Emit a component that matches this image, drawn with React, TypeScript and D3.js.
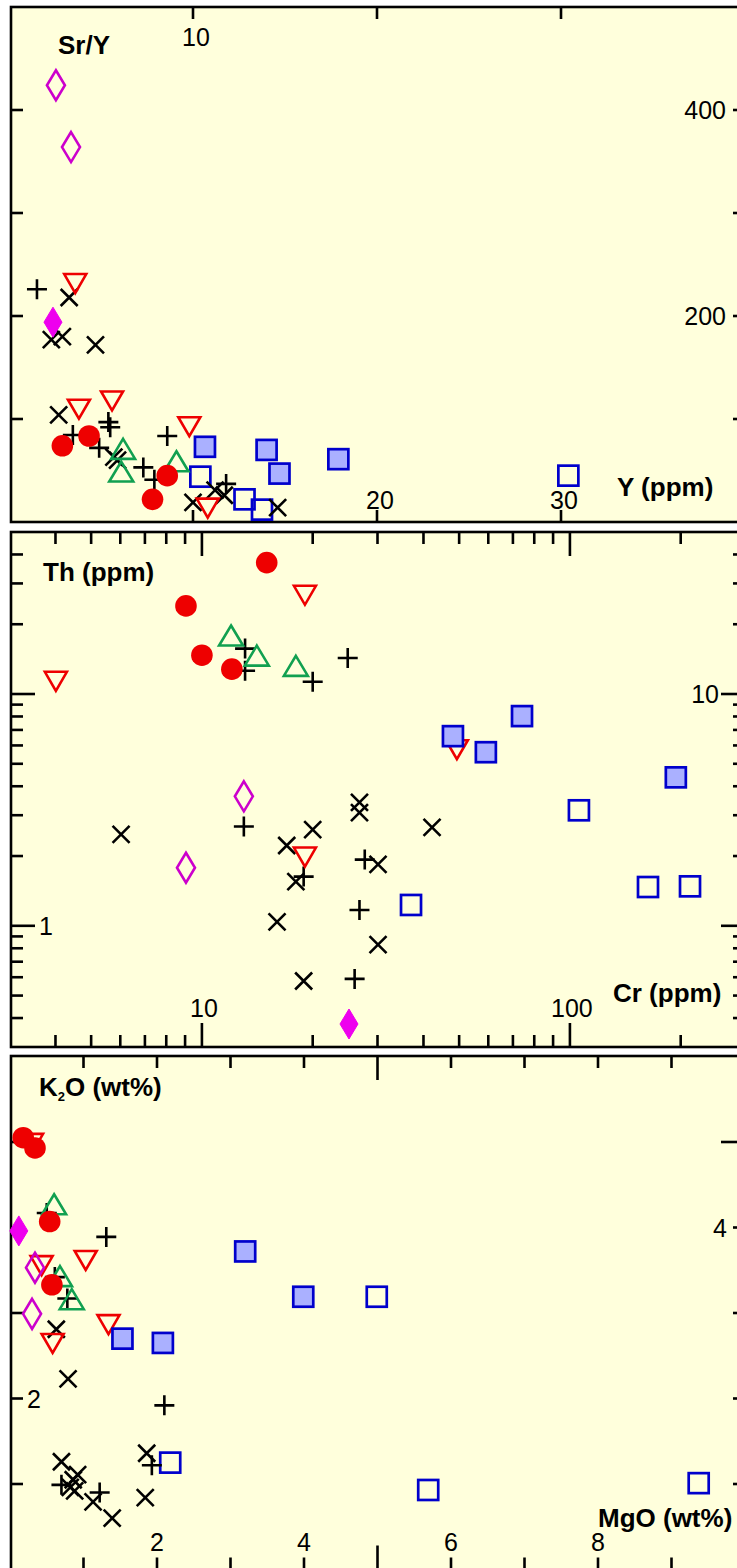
import React from "react";
import * as d3 from "d3";

type P = [number, number];

// ---------- Panel 1: Y (ppm) vs Sr/Y ----------
const p1_redCircle: P[] = [[2.9, 74], [4.35, 83.5], [8.6, 45], [7.8, 22]];
const p1_redTri: P[] = [[3.6, 232], [3.8, 110], [5.6, 118], [9.8, 93], [10.8, 14]];
const p1_greenTri: P[] = [[6.2, 70], [6.1, 48], [9.1, 58]];
const p1_plus: P[] = [[1.52, 226], [3.47, 84.5], [5.4, 97], [5.5, 92], [4.9, 72], [8.6, 83.5], [7.3, 53], [7.9, 41], [11.8, 37]];
const p1_cross: P[] = [[3.27, 218], [2.3, 177], [2.9, 180], [4.7, 172], [2.7, 104], [5.7, 63], [5.9, 60], [10, 19], [11.2, 31], [11.7, 26], [14.6, 14]];
const p1_diamondOpen: P[] = [[2.55, 424], [3.37, 364]];
const p1_diamondFilled: P[] = [[2.39, 194]];
const p1_squareFilled: P[] = [[10.65, 73], [14, 70], [14.7, 47], [17.9, 61]];
const p1_squareOpen: P[] = [[10.4, 44], [12.8, 22], [13.75, 12], [30.4, 45]];

// ---------- Panel 2: Cr (ppm) vs Th (ppm) ----------
const p2_redCircle: P[] = [[15.0, 36.9], [9.05, 24.0], [10, 14.7], [12.06, 12.8]];
const p2_redTri: P[] = [[19.05, 26.8], [4.01, 11.4], [49.3, 5.78], [19.05, 1.99]];
const p2_greenTri: P[] = [[12.0, 17.7], [14.1, 14.5], [18.0, 13.1]];
const p2_plus: P[] = [[13.1, 15.7], [13.1, 12.6], [20.0, 11.3], [24.9, 14.3], [13.0, 2.68], [18.9, 1.63], [27.7, 1.93], [26.8, 1.17], [26.0, 0.59]];
const p2_cross: P[] = [[6.03, 2.48], [17.0, 2.22], [20.0, 2.6], [18.0, 1.55], [16.0, 1.04], [18.9, 0.578], [26.8, 3.41], [26.8, 3.08], [30.1, 1.84], [30.1, 0.83], [42.2, 2.66]];
const p2_diamondOpen: P[] = [[13.0, 3.62], [9.05, 1.78]];
const p2_diamondFilled: P[] = [[25.1, 0.377]];
const p2_squareFilled: P[] = [[48.1, 6.58], [59.1, 5.61], [74.1, 8.03], [194, 4.37]];
const p2_squareOpen: P[] = [[105.8, 3.15], [37.0, 1.23], [163, 1.47], [212, 1.48]];

// ---------- Panel 3: MgO (wt%) vs K2O (wt%) ----------
const p3_redCircle: P[] = [[0.18, 5.05], [0.34, 4.93], [0.54, 4.07], [0.57, 3.33]];
const p3_redTri: P[] = [[0.3, 4.99], [1.03, 3.62], [0.43, 3.56], [1.34, 2.87], [0.58, 2.65]];
const p3_greenTri: P[] = [[0.6, 4.26], [0.68, 3.42], [0.84, 3.15]];
const p3_plus: P[] = [[0.5, 4.17], [1.31, 3.89], [0.61, 3.42], [0.78, 3.17], [2.1, 1.92], [1.93, 1.22], [0.7, 0.99], [1.22, 0.9]];
const p3_cross: P[] = [[0.63, 2.81], [0.79, 2.23], [0.7, 1.26], [0.92, 1.11], [0.86, 1.05], [0.82, 0.96], [0.88, 0.92], [1.13, 0.79], [1.39, 0.6], [1.86, 1.36], [1.84, 0.84]];
const p3_diamondOpen: P[] = [[0.34, 3.53], [0.3, 2.99]];
const p3_diamondFilled: P[] = [[0.12, 3.96]];
const p3_squareFilled: P[] = [[3.2, 3.72], [3.99, 3.19], [1.53, 2.7], [2.08, 2.65]];
const p3_squareOpen: P[] = [[4.99, 3.19], [2.18, 1.25], [5.69, 0.93], [9.37, 1.01]];

// tick values / labels
const p1_xTicks = [10, 20, 30];
const p1_yTicks = [100, 200, 300, 400];
const p1_yLabels = [400, 200];
const p2_xLabels = [10, 100];
const p3_xTicks = [1, 2, 3, 4, 5, 6, 7, 8, 9];
const p3_xLabels = [2, 4, 6, 8];
const p3_yTicks = [1, 2, 3, 4, 5];

const FONT = "'Liberation Sans', Arial, Helvetica, sans-serif";
const BG = "#FFFFDC";
const RED = "#EE0000";
const GREEN = "#11A050";
const MAG = "#CC00CC";
const MAGF = "#EE00EE";
const BLUE = "#0000CC";
const BLUEF = "#AAB0FF";

type Groups = Record<string, P[]>;

function Marker({ type, x, y }: { type: string; x: number; y: number }) {
  const sw = 2.6;
  switch (type) {
    case "redCircle":
      return <circle cx={x} cy={y} r={10.8} fill={RED} />;
    case "redTri":
      return <path d={`M${x - 11},${y - 9}L${x + 11},${y - 9}L${x},${y + 10}Z`} fill="none" stroke={RED} strokeWidth={sw} />;
    case "greenTri":
      return <path d={`M${x},${y - 11}L${x + 12},${y + 9}L${x - 12},${y + 9}Z`} fill="none" stroke={GREEN} strokeWidth={sw} />;
    case "plus":
      return <path d={`M${x - 10},${y}H${x + 10}M${x},${y - 10}V${y + 10}`} stroke="#000" strokeWidth={sw} />;
    case "cross":
      return <path d={`M${x - 8.5},${y - 8.5}L${x + 8.5},${y + 8.5}M${x - 8.5},${y + 8.5}L${x + 8.5},${y - 8.5}`} stroke="#000" strokeWidth={sw} />;
    case "diamondOpen":
      return <path d={`M${x},${y - 15}L${x + 9},${y}L${x},${y + 15}L${x - 9},${y}Z`} fill="none" stroke={MAG} strokeWidth={sw} />;
    case "diamondFilled":
      return <path d={`M${x},${y - 15}L${x + 9},${y}L${x},${y + 15}L${x - 9},${y}Z`} fill={MAGF} stroke={MAGF} strokeWidth={1} />;
    case "squareFilled":
      return <rect x={x - 10} y={y - 10} width={20} height={20} fill={BLUEF} stroke={BLUE} strokeWidth={2.7} />;
    case "squareOpen":
      return <rect x={x - 10} y={y - 10} width={20} height={20} fill="none" stroke={BLUE} strokeWidth={2.7} />;
  }
  return null;
}

const ORDER = ["squareOpen", "cross", "plus", "redTri", "greenTri", "redCircle", "diamondOpen", "diamondFilled", "squareFilled"];

function Points({ groups, sx, sy }: { groups: Groups; sx: (v: number) => number; sy: (v: number) => number }) {
  return (
    <g>
      {ORDER.map((k) =>
        (groups[k] || []).map((d, i) => <Marker key={k + i} type={k} x={sx(d[0])} y={sy(d[1])} />)
      )}
    </g>
  );
}

const L = 11;
const R = 745;
const TW = 2.6;

export default function App() {
  // Panel 1
  const t1 = 7, b1 = 522;
  const x1 = d3.scaleLinear().domain([0, 40]).range([9, 745]);
  const y1 = d3.scaleLinear().domain([0, 500]).range([b1, t1]);
  // Panel 2
  const t2 = 532, b2 = 1047;
  const x2 = d3.scaleLog().domain([3, 300]).range([9.5, 745.5]);
  const y2 = d3.scaleLog().domain([0.3, 50]).range([b2, t2]);
  // Panel 3
  const t3 = 1056, b3 = 1569.5;
  const x3 = d3.scaleLinear().domain([0, 10]).range([10, 745]);
  const y3 = d3.scaleLinear().domain([0, 6]).range([b3, b3 - 6 * 85.5]);

  const g1: Groups = {
    redCircle: p1_redCircle, redTri: p1_redTri, greenTri: p1_greenTri, plus: p1_plus, cross: p1_cross,
    diamondOpen: p1_diamondOpen, diamondFilled: p1_diamondFilled, squareFilled: p1_squareFilled, squareOpen: p1_squareOpen,
  };
  const g2: Groups = {
    redCircle: p2_redCircle, redTri: p2_redTri, greenTri: p2_greenTri, plus: p2_plus, cross: p2_cross,
    diamondOpen: p2_diamondOpen, diamondFilled: p2_diamondFilled, squareFilled: p2_squareFilled, squareOpen: p2_squareOpen,
  };
  const g3: Groups = {
    redCircle: p3_redCircle, redTri: p3_redTri, greenTri: p3_greenTri, plus: p3_plus, cross: p3_cross,
    diamondOpen: p3_diamondOpen, diamondFilled: p3_diamondFilled, squareFilled: p3_squareFilled, squareOpen: p3_squareOpen,
  };

  const isMajor = (v: number) => Math.abs(Math.log10(v) - Math.round(Math.log10(v))) < 1e-9;
  const x2Ticks = x2.ticks().filter((v) => x2(v) > L + 2 && x2(v) < R - 2);
  const y2Ticks = y2.ticks().filter((v) => y2(v) > t2 + 2 && y2(v) < b2 - 2);

  const tick = { stroke: "#000", strokeWidth: TW };
  const numStyle = { fontFamily: FONT, fontSize: 25, fill: "#000" } as const;
  const lblStyle = { fontFamily: FONT, fontSize: 26, fontWeight: 700, fill: "#000" } as const;

  return (
    <svg width={737} height={1568} style={{ position: "absolute", left: 0, top: 0, background: "#fff" }}>
      {/* ===== Panel 1 ===== */}
      <rect x={L} y={t1} width={R - L} height={b1 - t1} fill={BG} stroke="#000" strokeWidth={2.6} />
      {p1_xTicks.map((v) => (
        <g key={"p1x" + v}>
          <line x1={x1(v)} x2={x1(v)} y1={t1} y2={t1 + 12} {...tick} />
          <line x1={x1(v)} x2={x1(v)} y1={b1} y2={b1 - 12} {...tick} />
        </g>
      ))}
      {p1_yTicks.map((v) => (
        <g key={"p1y" + v}>
          <line x1={L} x2={L + 12} y1={y1(v)} y2={y1(v)} {...tick} />
          <line x1={R} x2={R - 12} y1={y1(v)} y2={y1(v)} {...tick} />
        </g>
      ))}
      <text x={x1(10) + 3} y={46} textAnchor="middle" style={numStyle}>10</text>
      <text x={x1(20) + 3} y={509} textAnchor="middle" style={numStyle}>20</text>
      <text x={x1(30) + 3} y={509} textAnchor="middle" style={numStyle}>30</text>
      {p1_yLabels.map((v) => (
        <text key={"p1yl" + v} x={726} y={y1(v) + 9} textAnchor="end" style={numStyle}>{v}</text>
      ))}
      <text x={58} y={54} style={lblStyle}>Sr/Y</text>
      <text x={617} y={496} style={lblStyle}>Y (ppm)</text>
      <Points groups={g1} sx={x1} sy={y1} />

      {/* ===== Panel 2 ===== */}
      <rect x={L} y={t2} width={R - L} height={b2 - t2} fill={BG} stroke="#000" strokeWidth={2.6} />
      {x2Ticks.map((v) => {
        const len = isMajor(v) ? 24 : 12;
        return (
          <g key={"p2x" + v}>
            <line x1={x2(v)} x2={x2(v)} y1={t2} y2={t2 + len} {...tick} />
            <line x1={x2(v)} x2={x2(v)} y1={b2} y2={b2 - len} {...tick} />
          </g>
        );
      })}
      {y2Ticks.map((v) => {
        const len = isMajor(v) ? 24 : 12;
        return (
          <g key={"p2y" + v}>
            <line x1={L} x2={L + len} y1={y2(v)} y2={y2(v)} {...tick} />
            <line x1={R} x2={R - len} y1={y2(v)} y2={y2(v)} {...tick} />
          </g>
        );
      })}
      {p2_xLabels.map((v) => (
        <text key={"p2xl" + v} x={x2(v) + 2} y={1017} textAnchor="middle" style={numStyle}>{v}</text>
      ))}
      <text x={719} y={y2(10) + 9} textAnchor="end" style={numStyle}>10</text>
      <text x={39} y={y2(1) + 9} style={numStyle}>1</text>
      <text x={43} y={581} style={lblStyle}>Th (ppm)</text>
      <text x={613} y={1002} style={lblStyle}>Cr (ppm)</text>
      <Points groups={g2} sx={x2} sy={y2} />

      {/* ===== Panel 3 ===== */}
      <rect x={L} y={t3} width={R - L} height={1580 - t3} fill={BG} stroke="#000" strokeWidth={2.6} />
      {p3_xTicks.map((v) => {
        const len = v === 5 ? 24 : 12;
        return (
          <g key={"p3x" + v}>
            <line x1={x3(v)} x2={x3(v)} y1={t3} y2={t3 + len} {...tick} />
            <line x1={x3(v)} x2={x3(v)} y1={b3} y2={b3 - len} {...tick} />
          </g>
        );
      })}
      {p3_yTicks.map((v) => {
        const len = v === 5 ? 24 : 12;
        return (
          <g key={"p3y" + v}>
            <line x1={L} x2={L + len} y1={y3(v)} y2={y3(v)} {...tick} />
            <line x1={R} x2={R - len} y1={y3(v)} y2={y3(v)} {...tick} />
          </g>
        );
      })}
      {p3_xLabels.map((v) => (
        <text key={"p3xl" + v} x={x3(v)} y={1551} textAnchor="middle" style={numStyle}>{v}</text>
      ))}
      <text x={27} y={y3(2) + 9} style={numStyle}>2</text>
      <text x={727} y={y3(4) + 9} textAnchor="end" style={numStyle}>4</text>
      <text x={39} y={1096} style={lblStyle}>
        K<tspan fontSize={13} dy={5}>2</tspan><tspan dy={-5}>O (wt%)</tspan>
      </text>
      <text x={598} y={1527} style={lblStyle}>MgO (wt%)</text>
      <Points groups={g3} sx={x3} sy={y3} />
    </svg>
  );
}
